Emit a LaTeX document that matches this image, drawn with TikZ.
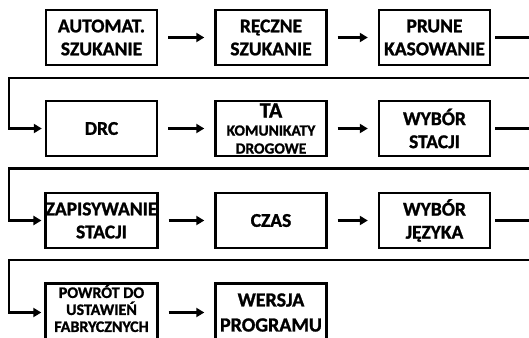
\documentclass[tikz,border=0pt]{standalone}
\usepackage{fontspec}
\setmainfont{Carlito}[BoldFeatures={FakeBold=1.2}]
\usetikzlibrary{arrows.meta}
\tikzset{
  menu/.style={draw, line width=2.4pt, minimum width=111pt, minimum height=55pt,
    inner xsep=0pt, inner ysep=-8pt, align=center, font=\bfseries\fontsize{19.5}{23}\selectfont},
  small/.style={font=\bfseries\fontsize{15.5}{18}\selectfont},
  flow/.style={line width=2.6pt, -{Triangle[length=8pt,width=9pt]}},
  wrap/.style={line width=2.6pt},
}

\begin{document}
\begin{tikzpicture}[x=1pt,y=-1pt]
\useasboundingbox (0,0) rectangle (529,337);
\clip (0,0) rectangle (529,337);
% row 1
\node[menu] (auto) at (101.5,37.5) {AUTOMAT.\\SZUKANIE};
\node[menu] (reczne) at (271,37.5) {RĘCZNE\\SZUKANIE};
\node[menu] (prune) at (434.5,37.5) {PRUNE\\KASOWANIE};
% row 2
\node[menu] (drc) at (101.5,128.5) {DRC};
\node[menu,small] (ta) at (271,128.5) {{\fontsize{22}{18}\selectfont TA}\\KOMUNIKATY\\DROGOWE};
\node[menu] (stacja) at (434.5,128.5) {WYBÓR\\STACJI};
% row 3
\node[menu] (zapis) at (101.5,220.5) {ZAPISYWANIE\\STACJI};
\node[menu] (czas) at (271,220.5) {CZAS};
\node[menu] (jezyk) at (434.5,220.5) {WYBÓR\\JĘZYKA};
% row 4
\node[menu,minimum height=58pt,font=\bfseries\fontsize{16}{17}\selectfont] (powrot) at (101.5,312.5)
  {\parbox[c][56pt][t]{112pt}{\centering POWRÓT DO\\USTAWIEŃ\\FABRYCZNYCH}};
\node[menu,minimum height=58pt,font=\bfseries\fontsize{20}{25}\selectfont] (wersja) at (271,312.5) {WERSJA\\PROGRAMU};

% turning points at the edges
\coordinate (out1) at (529,37.5);
\coordinate (out2) at (529,128.5);
\coordinate (out3) at (529,220.5);
\coordinate (in1) at (529,78);
\coordinate (in2) at (529,168.5);
\coordinate (in3) at (529,260);
\coordinate (left1) at (9,78);
\coordinate (left2) at (9,168.5);
\coordinate (left3) at (9,260);

% arrows along the rows
\draw[flow,shorten <=10pt,shorten >=10pt] (auto) -- (reczne);
\draw[flow,shorten <=10pt,shorten >=10pt] (reczne) -- (prune);
\draw[flow,shorten <=10pt,shorten >=10pt] (drc) -- (ta);
\draw[flow,shorten <=10pt,shorten >=10pt] (ta) -- (stacja);
\draw[flow,shorten <=10pt,shorten >=10pt] (zapis) -- (czas);
\draw[flow,shorten <=10pt,shorten >=10pt] (czas) -- (jezyk);
\draw[flow,shorten <=10pt,shorten >=10pt] (powrot) -- (wersja);

% lines to the next row
\draw[wrap,shorten <=4pt] (prune.east) -- (out1);
\draw[wrap,shorten <=4pt] (stacja.east) -- (out2);
\draw[wrap,shorten <=4pt] (jezyk.east) -- (out3);
\draw[flow,shorten >=3pt] (in1) -- (left1) |- (drc.west);
\draw[flow,shorten >=3pt] (in2) -- (left2) |- (zapis.west);
\draw[flow,shorten >=3pt] (in3) -- (left3) |- (powrot.west);
\end{tikzpicture}
\end{document}
